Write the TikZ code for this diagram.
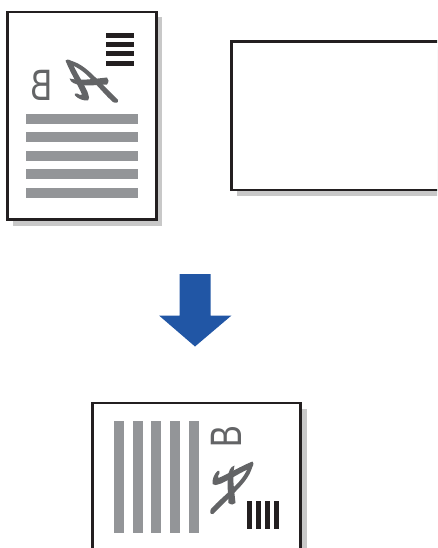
\documentclass[tikz,border=0pt]{standalone}
\usepackage{fontspec}
\setmainfont{Liberation Sans}
\definecolor{pageink}{RGB}{35,31,32}
\definecolor{pagebar}{RGB}{147,149,152}
\definecolor{pageshadow}{RGB}{200,200,200}
\definecolor{pagemark}{RGB}{99,100,102}
\definecolor{pagearrow}{RGB}{33,86,165}
% the scribble, in the coordinates of the first page
\newcommand{\signmark}{
  \fill[pagemark] (65.5,60.5) .. controls (68,58.5) and (71,60) .. (72.5,63)
    .. controls (76,72) and (83,82) .. (87.5,92)
    .. controls (89,97) and (90,99) .. (88,100.5)
    .. controls (84,101) and (78,99) .. (75,95.5)
    .. controls (74,94) and (75,93) .. (77,93.5)
    .. controls (79,95) and (81,95.5) .. (82,94.5)
    .. controls (78,85) and (70,72) .. (65.5,60.5) -- cycle;
  \fill[pagemark] (68,60) .. controls (78,62) and (86,68) .. (95,77)
    .. controls (103,85) and (110,92) .. (118,100)
    .. controls (118.5,103) and (116,103.5) .. (113,102)
    .. controls (106,96) and (97,85) .. (89,77)
    .. controls (83,71) and (76,66) .. (68,64) -- cycle;
  \fill[pagemark] (69.5,78.5) .. controls (80,81) and (93,79) .. (107,77.5)
    .. controls (109,79) and (109,82) .. (107,84.5)
    .. controls (96,85) and (88,86) .. (80,85)
    .. controls (75,84) and (71,83) .. (69.5,78.5) -- cycle;
}
\begin{document}
\begin{tikzpicture}[
    x=1pt, y=-1pt,
    sheet/.style={draw=pageink, line width=2.6pt, fill=white},
    shadow/.style={fill=pageshadow},
    greybar/.style={fill=pagebar},
    blackbar/.style={fill=pageink},
    letter/.style={text=pagemark, font=\fontsize{44}{44}\selectfont, inner sep=0pt}
  ]
  \useasboundingbox (0,0) rectangle (437,548);
  \begin{scope}
    \clip (0,0) rectangle (437,548);
    % first page
    \fill[shadow] (13,17) rectangle (162,226);
    \draw[sheet] (7.5,12) rectangle (156.5,219.5);
    \foreach \y in {114,132,151,169,188}
      \fill[greybar] (26,\y) rectangle (138,\y+10);
    \foreach \y in {33,42,51,61}
      \fill[blackbar] (106,\y) rectangle (134,\y+5);
    \node[letter, xscale=-.74] (mirrorB) at (41.5,85.5) {B};
    \signmark
    % second page
    \fill[shadow] (237,47) rectangle (445,196);
    \draw[sheet] (231.3,41.3) rectangle (445,190);
    % arrow
    \fill[pagearrow] (179.5,274) -- (210.5,274) -- (210.5,315.5) -- (231.5,315.5)
      -- (195,346.5) -- (159,315.5) -- (179.5,315.5) -- cycle;
    % third page
    \fill[shadow] (97,409) rectangle (307,560);
    \draw[sheet] (92.3,403) rectangle (300.2,560);
    \foreach \x in {114,133,151,170,189}
      \fill[greybar] (\x,421) rectangle (\x+10,533);
    \foreach \x in {247,256,265,274}
      \fill[blackbar] (\x,501) rectangle (\x+5,529);
    \node[letter, rotate=90, xscale=.74] (turnedB) at (226.5,436.5) {B};
    \begin{scope}[shift={(313,396)}, rotate=-90]
      \signmark
    \end{scope}
  \end{scope}
\end{tikzpicture}
\end{document}
